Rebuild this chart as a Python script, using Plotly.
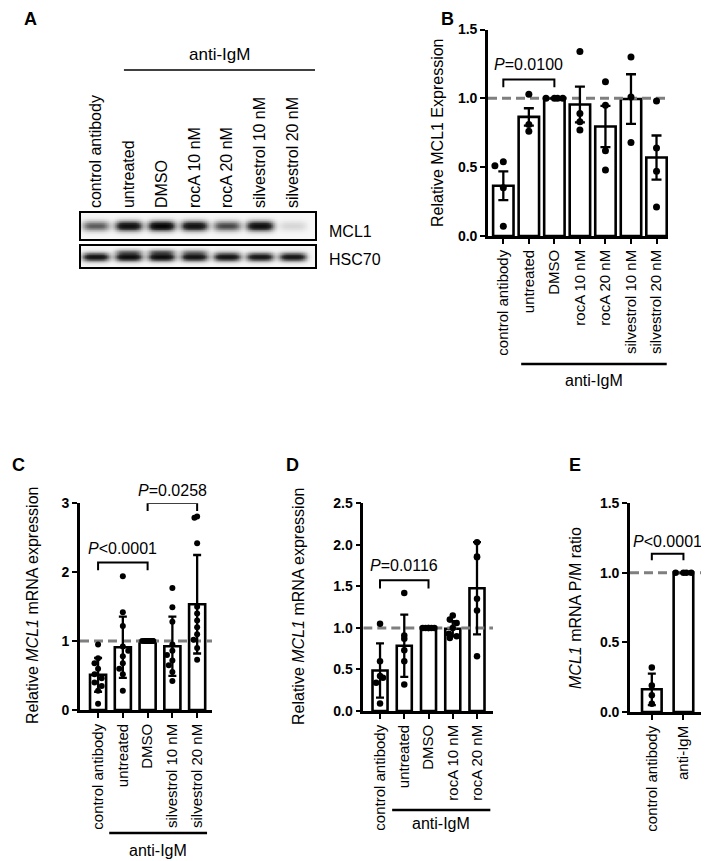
import numpy as np
import plotly.graph_objects as go

# target picture size and page offset (browser body margin)
PW, PH = 709, 861
OFF = 8
W, H = PW - OFF, PH - OFF
FONT = "Liberation Sans, Arial, sans-serif"

# ---------------- data ----------------
lane_labels = ["control antibody", "untreated", "DMSO", "rocA 10 nM", "rocA 20 nM",
               "silvestrol 10 nM", "silvestrol 20 nM"]
mcl1_intensity = [0.55, 0.92, 1.0, 0.90, 0.62, 0.93, 0.12]
hsc70_intensity = [0.90, 0.95, 0.95, 0.90, 0.90, 0.88, 0.88]
hsc70_upper = [0.0, 0.30, 0.35, 0.25, 0.05, 0.0, 0.0]

B_cats = ["control antibody", "untreated", "DMSO", "rocA 10 nM", "rocA 20 nM",
          "silvestrol 10 nM", "silvestrol 20 nM"]
B_means = [0.365, 0.865, 1.0, 0.955, 0.795, 0.995, 0.57]
B_err = [0.105, 0.063, 0.0, 0.13, 0.15, 0.18, 0.16]
B_points = [[0.54, 0.51, 0.35, 0.07], [1.03, 0.81, 0.76], [1.0, 1.0, 1.0, 1.0],
            [1.34, 0.89, 0.83, 0.77], [1.12, 0.95, 0.62, 0.48], [1.30, 1.01, 0.68],
            [0.98, 0.64, 0.47, 0.21]]

C_cats = ["control antibody", "untreated", "DMSO", "silvestrol 10 nM", "silvestrol 20 nM"]
C_means = [0.51, 0.91, 1.0, 0.925, 1.535]
C_err = [0.245, 0.445, 0.0, 0.43, 0.715]
C_points = [[0.95, 0.75, 0.68, 0.60, 0.52, 0.46, 0.40, 0.35, 0.28, 0.09],
            [1.94, 1.42, 1.22, 0.92, 0.86, 0.78, 0.68, 0.60, 0.52, 0.28],
            [1.0] * 10,
            [1.77, 1.49, 1.28, 0.95, 0.86, 0.80, 0.72, 0.65, 0.55, 0.42],
            [2.81, 2.79, 2.42, 1.50, 1.40, 1.30, 1.20, 1.10, 1.02, 0.90, 0.73]]

D_cats = ["control antibody", "untreated", "DMSO", "rocA 10 nM", "rocA 20 nM"]
D_means = [0.488, 0.786, 1.0, 0.99, 1.478]
D_err = [0.327, 0.375, 0.0, 0.09, 0.555]
D_points = [[1.05, 0.60, 0.42, 0.40, 0.34, 0.09],
            [1.42, 0.91, 0.87, 0.73, 0.60, 0.32],
            [1.0] * 6,
            [1.15, 1.10, 1.06, 1.00, 0.93, 0.90, 0.88],
            [2.03, 1.86, 1.85, 1.35, 1.21, 0.66]]

E_cats = ["control antibody", "anti-IgM"]
E_means = [0.163, 1.0]
E_err = [0.113, 0.0]
E_points = [[0.32, 0.19, 0.12, 0.06], [1.0, 1.0, 1.0, 1.0]]

REF_LEVEL = 1.0

B_brackets = [(0, 2, 1.136, 1.08, 1.245, "<i>P</i>=0.0100")]
C_brackets = [(0, 2, 2.14, 2.03, 2.35, "<i>P</i><0.0001"),
              (2, 4, 3.005, 2.89, 3.19, "<i>P</i>=0.0258")]
D_brackets = [(0, 2, 1.573, 1.473, 1.75, "<i>P</i>=0.0116")]
E_brackets = [(0, 1, 1.137, 1.09, 1.225, "<i>P</i><0.0001")]

# ---------------- helpers (page pixel -> paper) ----------------
def px_x(x):
    return (x - OFF) / W

def px_y(y):
    return 1 - (y - OFF) / H

def xdom(a, b):
    return [px_x(a), px_x(b)]

def ydom(top, bottom):
    return [px_y(bottom), px_y(top)]

fig = go.Figure()
layout = dict(width=W, height=H, margin=dict(l=0, r=0, t=0, b=0, pad=0), autosize=False,
              paper_bgcolor="white", plot_bgcolor="white", showlegend=False,
              font=dict(family=FONT, color="black"))
annotations = []
shapes = []

def ann(text, x, y, xref="paper", yref="paper", size=16, **kw):
    d = dict(text=text, x=x, y=y, xref=xref, yref=yref, showarrow=False,
             xanchor="center", yanchor="middle", font=dict(size=size))
    d.update(kw)
    annotations.append(d)

# ---------------- Panel A: blot ----------------
nl = len(lane_labels)
blot_xr = [-0.46, 6.68]
xs = np.linspace(blot_xr[0], blot_xr[1], 360)
ys = np.linspace(0, 1, 40)
XX, YY = np.meshgrid(xs, ys)
Z1 = np.zeros_like(XX)
Z2 = np.zeros_like(XX)
for i in range(nl):
    prof = np.exp(-((XX - i) / 0.42) ** 4)
    Z1 += mcl1_intensity[i] * prof * np.exp(-((YY - 0.5) / 0.19) ** 2)
    Z2 += hsc70_intensity[i] * prof * np.exp(-((YY - 0.48) / 0.2) ** 2)
    Z2 += hsc70_upper[i] * prof * np.exp(-((YY - 0.74) / 0.12) ** 2)
cs = [[0, "#f7f7f7"], [0.35, "#9a9a9a"], [0.7, "#303030"], [1, "#050505"]]
fig.add_trace(go.Heatmap(x=xs, y=ys, z=np.clip(Z1, 0, 1), colorscale=cs, zmin=0, zmax=1,
                         showscale=False, xaxis="x", yaxis="y", hoverinfo="skip"))
fig.add_trace(go.Heatmap(x=xs, y=ys, z=np.clip(Z2, 0, 1), colorscale=cs, zmin=0, zmax=1,
                         showscale=False, xaxis="x2", yaxis="y2", hoverinfo="skip"))
blot_axis = dict(showline=True, mirror=True, linecolor="black", linewidth=1.5,
                 showgrid=False, zeroline=False, ticks="", automargin=False)
layout["xaxis"] = dict(blot_axis, domain=xdom(81, 315), range=blot_xr, anchor="y",
                       side="top", tickvals=list(range(nl)), ticktext=lane_labels,
                       tickangle=-90, tickfont=dict(size=16))
layout["yaxis"] = dict(blot_axis, domain=ydom(213, 239), range=[0, 1], anchor="x",
                       showticklabels=False)
layout["xaxis2"] = dict(blot_axis, domain=xdom(81, 315), range=blot_xr, anchor="y2",
                        showticklabels=False)
layout["yaxis2"] = dict(blot_axis, domain=ydom(246, 267), range=[0, 1], anchor="x2",
                        showticklabels=False)
shapes.append(dict(type="line", xref="x", yref="paper", x0=0.85, x1=6.68,
                   y0=px_y(70), y1=px_y(70), line=dict(color="black", width=1.5)))
ann("anti-IgM", 3.76, px_y(54), xref="x", size=17)
ann("MCL1", px_x(327), px_y(231), xanchor="left")
ann("HSC70", px_x(327), px_y(259), xanchor="left")


# ---------------- bar panels ----------------
def swarm(vals, ppu_y, ppu_x, d, maxoff):
    placed, offs = [], []
    for n_, v in enumerate(vals):
        yp = v * ppu_y
        best = None
        for k in range(0, 12):
            for s in ([0] if k == 0 else [-1, 1]):
                xo = s * k * d * 0.6
                if abs(xo) / ppu_x > maxoff:
                    continue
                if all((xo - a) ** 2 + (yp - b) ** 2 >= (d * 0.95) ** 2 for a, b in placed):
                    best = xo
                    break
            if best is not None:
                break
        if best is None:
            best = ((n_ % 5) - 2) * d * 0.45
            best = max(-maxoff * ppu_x, min(maxoff * ppu_x, best))
        placed.append((best, yp))
        offs.append(best / ppu_x)
    return offs


def add_panel(n, cats, means, errs, points, brackets, xr, yr, xd, yd, barw, dot, cap,
              ytickvals, yticktext):
    # xd = (left_px, right_px), yd = (top_px, bottom_px)
    xa, ya = f"x{n}", f"y{n}"
    idx = list(range(len(cats)))
    ppu_x = (xd[1] - xd[0]) / (xr[1] - xr[0])
    ppu_y = (yd[1] - yd[0]) / (yr[1] - yr[0])
    ydomain = ydom(*yd)

    def ypaper(v):
        return ydomain[0] + (v - yr[0]) / (yr[1] - yr[0]) * (ydomain[1] - ydomain[0])

    fig.add_trace(go.Bar(x=idx, y=means, width=barw, xaxis=xa, yaxis=ya,
                         marker=dict(color="white", line=dict(color="black", width=2.6)),
                         hoverinfo="skip"))
    fig.add_trace(go.Scatter(x=[xr[0], xr[1]], y=[REF_LEVEL, REF_LEVEL], mode="lines",
                             xaxis=xa, yaxis=ya, hoverinfo="skip",
                             line=dict(color="#7f7f7f", width=3, dash="9px,5px")))
    fig.add_trace(go.Scatter(x=idx, y=means, mode="markers", xaxis=xa, yaxis=ya,
                             marker=dict(size=1, opacity=0), hoverinfo="skip",
                             error_y=dict(type="data", array=errs, color="black",
                                          thickness=2.3, width=cap)))
    px_, py_ = [], []
    for i, pts in enumerate(points):
        offs = swarm(pts, ppu_y, ppu_x, dot, barw * 0.42)
        for v, o in zip(pts, offs):
            px_.append(i + o)
            py_.append(v)
    fig.add_trace(go.Scatter(x=px_, y=py_, mode="markers", xaxis=xa, yaxis=ya,
                             marker=dict(size=dot, color="black"), hoverinfo="skip",
                             cliponaxis=False))
    for (a, b, ytop, yleg, ytxt, txt) in brackets:
        fig.add_trace(go.Scatter(x=[a, a, b, b], y=[yleg, ytop, ytop, yleg], mode="lines",
                                 xaxis=xa, yaxis=ya, hoverinfo="skip", cliponaxis=False,
                                 line=dict(color="black", width=2)))
        ann(txt, (a + b) / 2, ypaper(ytxt), xref=xa)
    layout[f"xaxis{n}"] = dict(domain=xdom(*xd), range=xr, anchor=ya, tickvals=idx,
                               ticktext=cats, tickangle=-90, showline=True, linewidth=2.6,
                               linecolor="black", ticks="outside", ticklen=5, tickwidth=2,
                               tickcolor="black", showgrid=False, zeroline=False,
                               automargin=False, tickfont=dict(size=15))
    layout[f"yaxis{n}"] = dict(domain=ydomain, range=yr, anchor=xa, tickvals=ytickvals,
                               ticktext=yticktext, showline=True, linewidth=2.6,
                               linecolor="black", ticks="outside", ticklen=5, tickwidth=2,
                               tickcolor="black", showgrid=False, zeroline=False,
                               automargin=False, tickfont=dict(size=14, weight="bold"))


add_panel(3, B_cats, B_means, B_err, B_points, B_brackets, [-0.6, 6.45], [0, 1.5],
          (488, 668), (29.5, 236), 0.8, 7, 5,
          [0, 0.5, 1.0, 1.5], ["0.0", "0.5", "1.0", "1.5"])
add_panel(4, C_cats, C_means, C_err, C_points, C_brackets, [-0.73, 4.6], [0, 3],
          (80, 212), (503.3, 710), 0.65, 6, 4,
          [0, 1, 2, 3], ["0", "1", "2", "3"])
add_panel(5, D_cats, D_means, D_err, D_points, D_brackets, [-0.69, 4.66], [0, 2.5],
          (363.3, 493), (503.3, 711), 0.62, 6.5, 4,
          [0, 0.5, 1.0, 1.5, 2.0, 2.5], ["0.0", "0.5", "1.0", "1.5", "2.0", "2.5"])
add_panel(6, E_cats, E_means, E_err, E_points, E_brackets, [-0.69, 1.65], [0, 1.5],
          (630, 704), (503.3, 712), 0.62, 6.5, 4,
          [0, 0.5, 1.0, 1.5], ["0.0", "0.5", "1.0", "1.5"])

# anti-IgM group brackets under tick labels
for (xa, x0, x1, yl, yt) in [("x3", 0.7, 6.4, 364, 380), ("x4", 0.45, 4.4, 833, 850),
                             ("x5", 0.5, 4.55, 810, 823)]:
    shapes.append(dict(type="line", xref=xa, yref="paper", x0=x0, x1=x1,
                       y0=px_y(yl), y1=px_y(yl), line=dict(color="black", width=2.5)))
    ann("anti-IgM", (x0 + x1) / 2, px_y(yt), xref=xa)

# y-axis titles
for (txt, x, y) in [("Relative MCL1 Expression", 437, 133),
                    ("Relative <i>MCL1</i> mRNA expression", 32, 606),
                    ("Relative <i>MCL1</i> mRNA expression", 298, 607),
                    ("<i>MCL1</i> mRNA P/M ratio", 575, 608)]:
    ann(txt, px_x(x), px_y(y), textangle=-90)

# panel letters
for (txt, x, y) in [("A", 30, 19), ("B", 448, 19), ("C", 18, 465), ("D", 292, 465),
                    ("E", 575, 465)]:
    ann(f"<b>{txt}</b>", px_x(x), px_y(y), size=18)

layout["annotations"] = annotations
layout["shapes"] = shapes
fig.update_layout(**layout)
fig.write_html("out.html")
